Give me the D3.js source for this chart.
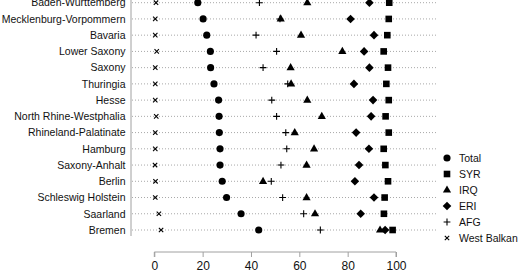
<!doctype html>
<html>
<head>
<meta charset="utf-8">
<script src="https://cdn.jsdelivr.net/npm/d3@7"></script>
<style>
  body { margin: 0; background: #fff; }
  svg { display: block; font-family: "Liberation Sans", Arial, sans-serif; }
</style>
</head>
<body>
<svg id="chart" width="520" height="272"></svg>
<script>
// states, top to bottom
var states = ["Baden-Wurttemberg", "Mecklenburg-Vorpommern", "Bavaria", "Lower Saxony", "Saxony",
  "Thuringia", "Hesse", "North Rhine-Westphalia", "Rhineland-Palatinate", "Hamburg",
  "Saxony-Anhalt", "Berlin", "Schleswig Holstein", "Saarland", "Bremen"];

// values per series (same order as states)
var total = [18, 20.2, 21.7, 23.2, 23.3, 24.7, 26.6, 26.8, 26.9, 27.2, 27.2, 28.1, 29.9, 35.9, 43.2];
var syr   = [97.2, 97, 96.4, 94.9, 96.7, 96, 97, 95.7, 97, 94.9, 95.6, 96.7, 95.3, 95, 98.6];
var irq   = [63.3, 52.3, 60.7, 77.8, 56.4, 56.6, 63.3, 69.3, 58.1, 66.1, 63, 45, 63, 66.5, 93.4];
var eri   = [89, 81.2, 90.9, 86.8, 89, 82.6, 90.5, 89.7, 83.5, 88.8, 84.7, 83, 90.9, 85.4, 95.5];
var afg   = [43.5, 52, 42.1, 50.6, 45, 55.2, 48.6, 50.6, 54.4, 54.8, 52.4, 48.4, 53.1, 61.8, 68.7];
var wb    = [0.7, 0.4, 0.4, 1, 0.4, 0.4, 0.4, 0.8, 0.4, 0.4, 0.3, 0.5, 0.4, 1.9, 2.8];

var xTicks = [0, 20, 40, 60, 80, 100];
var seriesNames = ["Total", "SYR", "IRQ", "ERI", "AFG", "West Balkan"];
var seriesShapes = ["circle", "square", "triangle", "diamond", "plus", "cross"];
var seriesValues = [total, syr, irq, eri, afg, wb];

var svg = d3.select("#chart");

var x = d3.scaleLinear().domain([0, 100]).range([154.3, 396]);
var y = d3.scalePoint().domain(states).range([2.7, 230]);

var plotLeft = 131, plotRight = 437;

// shape drawing (R pch style)
function shapePath(shape) {
  switch (shape) {
    case "circle": return d3.symbol(d3.symbolCircle, 40)();
    case "square": return "M-3.3,-3.3H3.3V3.3H-3.3Z";
    case "triangle": return "M0,-4.6L4.1,2.6L-4.1,2.6Z";
    case "diamond": return "M0,-4.3L4.3,0L0,4.3L-4.3,0Z";
    case "plus": return "M-3.4,0H3.4M0,-3.4V3.4";
    case "cross": return "M-2.2,-2.2L2.2,2.2M-2.2,2.2L2.2,-2.2";
  }
}
function isLine(shape) { return shape === "plus" || shape === "cross"; }

// dotted row lines
svg.append("g").selectAll("line").data(states).enter().append("line")
  .attr("x1", plotLeft + 1).attr("x2", plotRight)
  .attr("y1", d => y(d)).attr("y2", d => y(d))
  .attr("stroke", "#a8a8a8").attr("stroke-width", 1)
  .attr("stroke-dasharray", "1,2");

// left frame line
svg.append("line").attr("x1", plotLeft).attr("x2", plotLeft)
  .attr("y1", 0).attr("y2", 236)
  .attr("stroke", "#a0a0a0").attr("stroke-width", 1);

// row labels
svg.append("g").selectAll("text").data(states).enter().append("text")
  .attr("x", 125.5).attr("y", d => y(d)).attr("dy", "0.36em")
  .attr("text-anchor", "end").attr("font-size", "10.5px").attr("fill", "#111")
  .text(d => d);

// points
seriesValues.forEach(function(vals, si) {
  var shape = seriesShapes[si];
  svg.append("g").selectAll("path").data(vals).enter().append("path")
    .attr("transform", (d, i) => "translate(" + x(d) + "," + y(states[i]) + ")")
    .attr("d", shapePath(shape))
    .attr("fill", isLine(shape) ? "none" : "#000")
    .attr("stroke", isLine(shape) ? "#000" : "none")
    .attr("stroke-width", isLine(shape) ? 1.1 : 0);
});

// x axis
var axis = svg.append("g").attr("transform", "translate(0,252)")
  .call(d3.axisBottom(x).tickValues(xTicks).tickSize(5).tickPadding(4.5).tickFormat(d3.format("d")));
axis.select(".domain").attr("stroke", "#a0a0a0").attr("d", "M" + x(0) + ",5V0H" + x(100) + "V5");
axis.selectAll(".tick line").attr("stroke", "#a0a0a0");
axis.selectAll(".tick text").attr("font-size", "12px").attr("fill", "#111")
  .attr("font-family", "Liberation Sans, Arial, sans-serif");

// legend
var leg = svg.append("g").selectAll("g").data(seriesNames).enter().append("g")
  .attr("transform", (d, i) => "translate(447," + (158 + i * 16) + ")");
leg.append("path")
  .attr("d", (d, i) => shapePath(seriesShapes[i]))
  .attr("fill", (d, i) => isLine(seriesShapes[i]) ? "none" : "#000")
  .attr("stroke", (d, i) => isLine(seriesShapes[i]) ? "#000" : "none")
  .attr("stroke-width", (d, i) => isLine(seriesShapes[i]) ? 1.1 : 0);
leg.append("text").attr("x", 12).attr("dy", "0.36em")
  .attr("font-size", "10.5px").attr("fill", "#111").text(d => d);
</script>
</body>
</html>
